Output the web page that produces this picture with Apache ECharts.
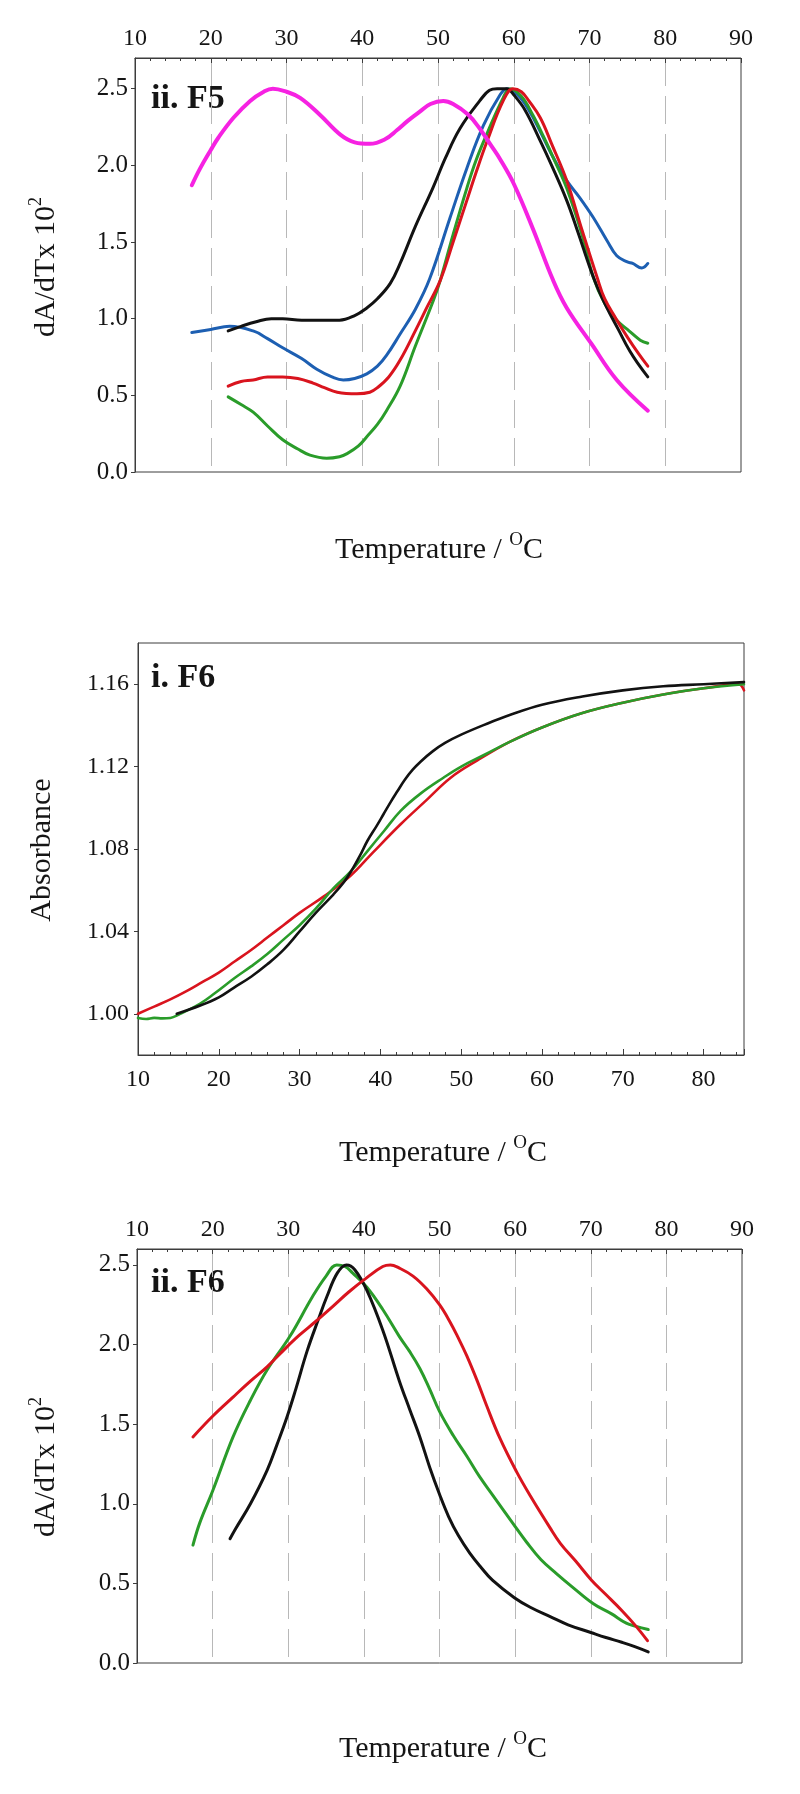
<!DOCTYPE html>
<html><head><meta charset="utf-8">
<script src="https://cdn.jsdelivr.net/npm/echarts@6/dist/echarts.min.js"></script>
<style>html,body{margin:0;padding:0;background:#fff}#c{width:800px;height:1794px}</style>
</head><body><div id="c"></div>
<script>
const FONT = '"Liberation Serif", "Times New Roman", serif';

// ---------- Panel ii. F5 (dA/dT x 10^2 vs Temperature) ----------
const f5Magenta = [[17.5,1.87],[18.6,1.98],[20,2.10],[21,2.18],[23,2.31],[25.2,2.42],[27,2.48],[28.2,2.50],[30,2.48],[31.8,2.44],[34.4,2.33],[37.1,2.20],[39,2.15],[41,2.14],[43,2.17],[44.6,2.23],[46,2.29],[47.6,2.35],[49,2.40],[50.7,2.42],[52,2.40],[54,2.33],[55.5,2.24],[57,2.13],[58.2,2.04],[60,1.88],[62.5,1.59],[65.2,1.25],[67,1.07],[70.2,0.84],[73.6,0.60],[77.7,0.40]];
const f5Blue = [[17.5,0.91],[20,0.93],[22.5,0.95],[25.6,0.92],[27.5,0.87],[29.5,0.81],[32,0.74],[34,0.67],[36,0.62],[37.5,0.60],[39,0.61],[40.6,0.64],[42,0.69],[43.2,0.76],[45,0.90],[47,1.06],[48.9,1.26],[51.6,1.66],[53.8,1.98],[56,2.26],[58.2,2.46],[59.1,2.50],[60.5,2.46],[62,2.36],[63.5,2.22],[65,2.07],[67,1.90],[68.7,1.79],[70.5,1.66],[72.3,1.51],[73.6,1.41],[75,1.37],[75.7,1.36],[76.9,1.33],[77.7,1.36]];
const f5Green = [[22.3,0.49],[24,0.44],[25.6,0.39],[27.5,0.30],[29.5,0.21],[31.5,0.15],[33.1,0.11],[35.3,0.09],[37,0.10],[38,0.12],[39.5,0.17],[40.6,0.23],[42,0.31],[43.2,0.40],[45,0.56],[47,0.82],[49.4,1.12],[50.3,1.25],[52,1.55],[53.8,1.85],[55,2.03],[56.5,2.21],[58.6,2.44],[59.5,2.50],[61,2.45],[62.5,2.33],[64,2.18],[65.5,2.02],[67,1.85],[69,1.55],[70.5,1.27],[72,1.10],[73.6,0.99],[75,0.93],[76.7,0.86],[77.7,0.84]];
const f5Black = [[22.3,0.92],[24,0.95],[26,0.98],[28,1.00],[29.5,1.00],[32,0.99],[35,0.99],[37,0.99],[39,1.02],[40.6,1.07],[42,1.13],[43.7,1.23],[45,1.36],[47,1.60],[49.3,1.85],[51,2.05],[52.9,2.24],[55.5,2.42],[56.8,2.49],[57.8,2.50],[59.1,2.50],[60,2.46],[61.5,2.36],[63.5,2.16],[65,2.00],[67,1.77],[68.5,1.56],[70,1.34],[71,1.21],[72.3,1.07],[73.8,0.93],[75.3,0.79],[76.5,0.70],[77.7,0.62]];
const f5Red = [[22.3,0.56],[24,0.59],[25.6,0.60],[27.5,0.62],[29.5,0.62],[31.5,0.61],[33.5,0.58],[35,0.55],[36.7,0.52],[39.3,0.51],[41,0.52],[42,0.55],[43.5,0.62],[45,0.73],[47,0.92],[48.5,1.07],[50.3,1.25],[52,1.50],[53.8,1.77],[55,1.95],[56.5,2.16],[58.6,2.42],[59.9,2.50],[61,2.48],[62,2.42],[63.5,2.31],[65,2.14],[67,1.90],[69,1.58],[71,1.27],[72,1.13],[73.5,1.00],[75,0.88],[76.5,0.77],[77.7,0.69]];

// ---------- Panel i. F6 (Absorbance vs Temperature) ----------
const f6AbsGreen = [[10,0.998],[11,0.9975],[12,0.998],[13,0.9978],[14,0.998],[15,0.9995],[17.7,1.005],[19.5,1.010],[22,1.0175],[24,1.023],[26,1.029],[28,1.036],[30,1.043],[32,1.051],[34.2,1.061],[36.3,1.069],[38.4,1.079],[40.5,1.089],[42.5,1.0985],[45,1.107],[47.8,1.1146],[50,1.120],[53,1.126],[56,1.132],[60,1.139],[65,1.146],[70,1.151],[75,1.155],[80,1.158],[85,1.160]];
const f6AbsBlack = [[14.8,1.000],[17.7,1.004],[20,1.008],[21.8,1.0125],[24,1.018],[26,1.024],[28,1.031],[30,1.040],[32,1.049],[34.2,1.058],[35.5,1.064],[36.5,1.070],[37.5,1.077],[38.4,1.084],[39.5,1.091],[40.4,1.097],[41.3,1.103],[42.1,1.108],[43,1.1135],[44,1.1185],[45,1.1225],[46.5,1.1275],[48,1.1315],[50,1.1355],[53,1.1405],[56,1.145],[60,1.150],[65,1.154],[70,1.157],[75,1.159],[80,1.160],[85,1.161]];
const f6AbsRed = [[10,1.000],[12,1.0035],[14,1.007],[16,1.011],[18,1.0155],[20,1.020],[22,1.0255],[24,1.031],[26,1.037],[28,1.043],[30,1.049],[33,1.057],[36.3,1.067],[39,1.078],[42.5,1.092],[45.5,1.103],[48.7,1.1146],[52,1.123],[56,1.132],[60,1.139],[65,1.146],[70,1.151],[75,1.155],[80,1.158],[84.3,1.160],[85,1.157]];

// ---------- Panel ii. F6 (dA/dT x 10^2 vs Temperature) ----------
const f6DerGreen = [[17.4,0.74],[18.3,0.88],[20,1.08],[22.7,1.42],[25,1.65],[27.2,1.84],[30.2,2.05],[33.2,2.30],[35,2.43],[36.4,2.50],[37.5,2.49],[38.5,2.45],[40.4,2.36],[42.5,2.22],[44.7,2.05],[46,1.96],[47.4,1.85],[48.7,1.72],[50,1.58],[51.8,1.43],[53.6,1.30],[55.3,1.17],[57.1,1.05],[59.8,0.87],[61.5,0.76],[63.4,0.65],[65.5,0.56],[67.5,0.48],[70.4,0.37],[72.7,0.31],[74.7,0.25],[76,0.23],[77.6,0.21]];
const f6DerBlack = [[22.3,0.78],[23,0.84],[25,1.00],[27.2,1.21],[28.5,1.37],[29.8,1.54],[31,1.72],[32.5,1.96],[34,2.16],[35.1,2.30],[36.5,2.45],[37.7,2.50],[38.8,2.47],[40.4,2.34],[42.5,2.09],[44.7,1.77],[46,1.60],[47.4,1.42],[48.7,1.23],[50,1.06],[51.2,0.92],[52.5,0.80],[54,0.69],[55.5,0.60],[57,0.52],[59.9,0.41],[62,0.35],[64.7,0.29],[67,0.24],[70.1,0.19],[72,0.16],[74.1,0.13],[76,0.10],[77.6,0.07]];
const f6DerRed = [[17.4,1.42],[20,1.55],[22.7,1.67],[25,1.77],[27.2,1.86],[29.5,1.97],[31.5,2.06],[33.5,2.14],[35.9,2.24],[38,2.33],[40.4,2.42],[42.5,2.49],[43.5,2.50],[44.7,2.48],[46.5,2.43],[48.3,2.35],[50,2.25],[51.3,2.15],[52.5,2.04],[53.6,1.93],[55,1.77],[56.2,1.62],[58,1.41],[60.2,1.20],[62,1.05],[64.6,0.85],[66,0.75],[68,0.64],[70.1,0.52],[72,0.43],[74.1,0.33],[76,0.23],[77.5,0.14]];

// tick label values
const derivYTicks = [0, 0.5, 1.0, 1.5, 2.0, 2.5];
const absYTicks = [1.00, 1.04, 1.08, 1.12, 1.16];

const AXIS_COLOR = '#3c3c3c';
const TEXT_COLOR = '#151515';
const C = {black:'#121212', red:'#d9141e', green:'#2a9c2a', blue:'#1d5fb2', magenta:'#f622e2'};

function topAxis(g) {
  return {
    type:'value', gridIndex:g, position:'top', min:10, max:90, interval:10,
    axisLine:{show:true, onZero:false, lineStyle:{color:AXIS_COLOR, width:1}},
    axisTick:{show:true, inside:true, length:5, lineStyle:{color:AXIS_COLOR}},
    minorTick:{show:true, splitNumber:5, length:3, lineStyle:{color:AXIS_COLOR}},
    axisLabel:{show:true, margin:7, fontFamily:FONT, fontSize:24, color:TEXT_COLOR},
    splitLine:{show:true, showMinLine:false, showMaxLine:false, lineStyle:{color:'#b8b8b8', width:1, type:[28,10]}},
    minorSplitLine:{show:false}
  };
}
function derivY(g) {
  return {
    type:'value', gridIndex:g, min:0, max: g===0 ? 2.7 : 2.6,
    axisLine:{show:true, onZero:false, lineStyle:{color:AXIS_COLOR, width:1}},
    axisTick:{show:true, length:4, customValues:derivYTicks, lineStyle:{color:AXIS_COLOR}},
    axisLabel:{show:true, margin:7, customValues:derivYTicks, formatter:v=>Number(v).toFixed(1), fontFamily:FONT, fontSize:25, color:TEXT_COLOR},
    splitLine:{show:false}
  };
}
function line(data, color, w, xi, z) {
  return {type:'line', data:data, xAxisIndex:xi, yAxisIndex:xi, showSymbol:false, symbol:'none', smooth:0.4,
    lineStyle:{color:color, width:w, cap:'round', join:'round'}, z:z, silent:true, animation:false};
}
function txt(x, y, text, size, bold, rot, align) {
  const a = align || 'center';
  return {type:'text', x:x, y:y, rotation:rot||0, silent:true,
    style:{text:text, fill:TEXT_COLOR, font:(bold?'bold ':'') + size + 'px ' + FONT,
      align:a, verticalAlign:'middle', textAlign:a, textVerticalAlign:'middle'}};
}
function richTxt(x, y, main, sup, size, supSize, rot) {
  return {type:'text', x:x, y:y, rotation:rot||0, silent:true,
    style:{text:'{a|' + main + '}{s|' + sup + '}{a|' + (sup==='O' ? 'C' : '') + '}',
      align:'center', verticalAlign:'middle', textAlign:'center', textVerticalAlign:'middle',
      rich:{
        a:{fontFamily:FONT, fontSize:size, fill:TEXT_COLOR, color:TEXT_COLOR, lineHeight:size+4, verticalAlign:'bottom'},
        s:{fontFamily:FONT, fontSize:supSize, fill:TEXT_COLOR, color:TEXT_COLOR, verticalAlign:'top'}
      }}};
}

const gridBase = {show:true, borderColor:AXIS_COLOR, borderWidth:1, backgroundColor:'transparent', containLabel:false, outerBoundsMode:'none'};

const option = {
  backgroundColor:'#ffffff',
  animation:false,
  grid:[
    Object.assign({left:135, top:58, width:606, height:414}, gridBase),
    Object.assign({left:138, top:643, width:606, height:412}, gridBase),
    Object.assign({left:137, top:1249, width:605, height:414}, gridBase)
  ],
  xAxis:[
    topAxis(0),
    {
      type:'value', gridIndex:1, position:'bottom', min:10, max:85, interval:10,
      axisLine:{show:true, onZero:false, lineStyle:{color:AXIS_COLOR, width:1}},
      axisTick:{show:true, inside:true, length:6, lineStyle:{color:AXIS_COLOR}},
      minorTick:{show:true, splitNumber:5, length:3, lineStyle:{color:AXIS_COLOR}},
      axisLabel:{show:true, margin:13, showMaxLabel:false, fontFamily:FONT, fontSize:24, color:TEXT_COLOR},
      splitLine:{show:false}
    },
    topAxis(2)
  ],
  yAxis:[
    derivY(0),
    {
      type:'value', gridIndex:1, min:0.98, max:1.18,
      axisLine:{show:true, onZero:false, lineStyle:{color:AXIS_COLOR, width:1}},
      axisTick:{show:true, length:4, customValues:absYTicks, lineStyle:{color:AXIS_COLOR}},
      axisLabel:{show:true, margin:9, customValues:absYTicks, formatter:v=>Number(v).toFixed(2), fontFamily:FONT, fontSize:24, color:TEXT_COLOR},
      splitLine:{show:false}
    },
    derivY(2)
  ],
  series:[
    line(f5Blue, C.blue, 3, 0, 2),
    line(f5Green, C.green, 3, 0, 3),
    line(f5Black, C.black, 3, 0, 4),
    line(f5Red, C.red, 3, 0, 5),
    line(f5Magenta, C.magenta, 4, 0, 6),
    line(f6AbsRed, C.red, 2.6, 1, 2),
    line(f6AbsGreen, C.green, 2.6, 1, 3),
    line(f6AbsBlack, C.black, 2.6, 1, 4),
    line(f6DerGreen, C.green, 3, 2, 2),
    line(f6DerBlack, C.black, 3, 2, 3),
    line(f6DerRed, C.red, 3, 2, 4)
  ],
  graphic:[
    txt(151, 99, 'ii. F5', 34, true, 0, 'left'),
    txt(151, 678, 'i. F6', 34, true, 0, 'left'),
    txt(151, 1283, 'ii. F6', 34, true, 0, 'left'),
    richTxt(44, 267, 'dA/dTx 10', '2', 30, 18, Math.PI/2),
    txt(42, 850, 'Absorbance', 30, false, Math.PI/2),
    richTxt(44, 1467, 'dA/dTx 10', '2', 30, 18, Math.PI/2),
    richTxt(439, 548, 'Temperature / ', 'O', 30, 19),
    richTxt(443, 1151, 'Temperature / ', 'O', 30, 19),
    richTxt(443, 1747, 'Temperature / ', 'O', 30, 19)
  ]
};

const chart = echarts.init(document.getElementById('c'), null, {renderer:'canvas', width:800, height:1794});
chart.setOption(option);
</script>
</body></html>
